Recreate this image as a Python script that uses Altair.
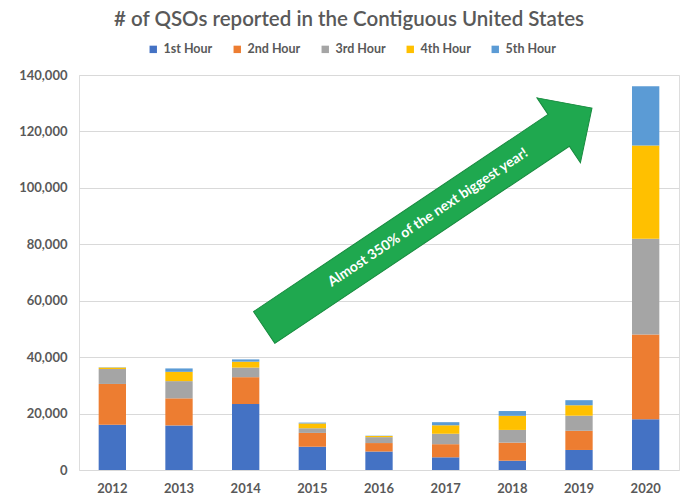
import altair as alt
import pandas as pd

years = ["2012", "2013", "2014", "2015", "2016", "2017", "2018", "2019", "2020"]
series = ["1st Hour", "2nd Hour", "3rd Hour", "4th Hour", "5th Hour"]
colors = ["#4472C4", "#ED7D31", "#A5A5A5", "#FFC000", "#5B9BD5"]

hour1 = [16000, 15800, 23400, 8250, 6550, 4500, 3300, 7100, 18000]
hour2 = [14500, 9600, 9500, 4900, 3000, 4650, 6400, 6800, 30000]
hour3 = [5300, 6100, 3400, 1650, 2100, 3700, 4500, 5350, 34000]
hour4 = [500, 3300, 2100, 1700, 400, 3000, 5000, 3700, 33000]
hour5 = [100, 1200, 800, 300, 100, 1100, 1700, 1800, 21000]

y_ticks = [0, 20000, 40000, 60000, 80000, 100000, 120000, 140000]

note_text = "Almost 350% of the next biggest year!"
note_year = ["2017"]
note_value = [89400]

values = [hour1, hour2, hour3, hour4, hour5]
rows = []
for i, s in enumerate(series):
    for yr, v in zip(years, values[i]):
        rows.append({"year": yr, "series": s, "rank": i, "qsos": v})
df = pd.DataFrame(rows)

note_df = pd.DataFrame({"year": note_year, "qsos": note_value, "label": [note_text]})

FONT = "Lato"
GRAY = "#595959"

x_enc = alt.X(
    "year:N",
    title=None,
    sort=years,
    scale=alt.Scale(domain=years, paddingInner=0.59, paddingOuter=0.295),
    axis=alt.Axis(labelAngle=0, ticks=False, domain=False, labelFont=FONT,
                  labelFontSize=13, labelFontWeight="bold", labelColor=GRAY,
                  labelPadding=12),
)

bars = alt.Chart(df).mark_bar().encode(
    x=x_enc,
    y=alt.Y(
        "qsos:Q",
        stack="zero",
        title=None,
        scale=alt.Scale(domain=[0, 140000], nice=False),
        axis=alt.Axis(values=y_ticks, format=",.0f", ticks=False, domain=False,
                      labelFont=FONT, labelFontSize=13, labelFontWeight="bold",
                      labelColor=GRAY, labelPadding=12, gridColor="#D9D9D9",
                      gridWidth=1),
    ),
    color=alt.Color(
        "series:N",
        sort=series,
        scale=alt.Scale(domain=series, range=colors),
        legend=alt.Legend(
            title=None, orient="none", direction="horizontal",
            legendX=68, legendY=-32, symbolType="square", symbolSize=55,
            symbolStrokeWidth=0, labelFont=FONT, labelFontSize=12.5,
            labelFontWeight="bold", labelColor=GRAY, columnPadding=18,
            symbolOffset=0, labelOffset=4,
        ),
    ),
    order=alt.Order("rank:Q", sort="ascending"),
)

arrow_path = "M -1 -0.097 L 0.797 -0.097 L 0.797 -0.198 L 1 0 L 0.797 0.198 L 0.797 0.097 L -1 0.097 Z"

arrow = alt.Chart(note_df).mark_point(
    shape=arrow_path, size=155600, filled=True, fill="#1FA84F", stroke="#178A3E",
    strokeWidth=1, opacity=1, angle=326.2, xOffset=-17.6,
).encode(x=alt.X("year:N", sort=years), y=alt.Y("qsos:Q"))

note = alt.Chart(note_df).mark_text(
    angle=326.2, color="white", font=FONT, fontSize=14, fontWeight="bold",
    xOffset=-17.6, align="center", baseline="middle",
).encode(x=alt.X("year:N", sort=years), y=alt.Y("qsos:Q"), text="label:N")

chart = alt.layer(bars, arrow, note).properties(
    width=600,
    height=395,
    title=alt.TitleParams(
        "# of QSOs reported in the Contiguous United States",
        font=FONT, fontSize=20.5, fontWeight=600, color=GRAY, anchor="middle",
        dx=-30, offset=13,
    ),
    autosize=alt.AutoSizeParams(type="none"),
    padding={"left": 79, "top": 75, "right": 5, "bottom": 27},
).configure_view(stroke=None).configure(background="white")

chart.save("out.html", embed_options={"renderer": "svg", "actions": False})
